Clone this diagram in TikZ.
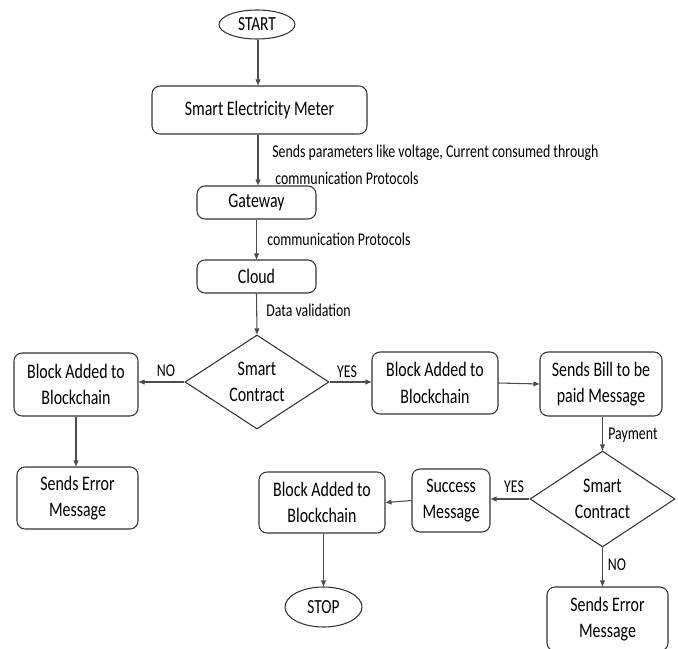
\documentclass[tikz,border=0pt]{standalone}
\usepackage{fontspec}
\setmainfont{Carlito}[FakeStretch=0.77]
\usetikzlibrary{shapes.geometric,arrows.meta}
\tikzset{
  sz/.style 2 args={minimum width={#1*0.75pt},minimum height={#2*0.75pt}},
  box/.style={draw=black!80,line width=0.8pt,rounded corners=6pt,inner sep=0pt,align=center,
     font=\fontsize{15.5}{20}\selectfont},
  term/.style={draw=black!80,line width=0.8pt,ellipse,inner sep=0pt,
     font=\fontsize{15}{18}\selectfont},
  dia/.style={draw=black!80,line width=0.8pt,diamond,inner sep=0pt,align=center,shape aspect=1.53,
     font=\fontsize{15.5}{20}\selectfont},
  conn/.style={draw=black!70,line width=0.8pt,-{Triangle[length=4.5pt,width=3.6pt]}},
  lbl/.style={inner sep=0pt,anchor=west,font=\fontsize{13.5}{16}\selectfont},
  clbl/.style={inner sep=0pt,font=\fontsize{13.5}{16}\selectfont},
}
\begin{document}
\begin{tikzpicture}[x=0.75pt,y=-0.75pt]
\useasboundingbox (0,0) rectangle (678,649);
\node[term,sz={76}{29}] (start) at (257,24.5) {START};
\node[box,sz={215}{48}] (sem) at (259.5,110) {Smart Electricity Meter};
\node[box,sz={119}{33}] (gw) at (256.5,202.5) {Gateway};
\node[box,sz={119}{33}] (cloud) at (256.5,276.5) {Cloud};
\node[dia,sz={144}{94}] (d1) at (257,382) {Smart\\Contract};
\node[box,sz={124}{63}] (lb) at (76,384.5) {Block Added to\\Blockchain};
\node[box,sz={121}{62}] (le) at (77.5,498) {Sends Error\\Message};
\node[box,sz={126}{62}] (rb) at (435,383) {Block Added to\\Blockchain};
\node[box,sz={122}{64}] (bill) at (601,384) {Sends Bill to be\\paid Message};
\node[dia,sz={145}{96}] (d2) at (602.5,499) {Smart\\Contract};
\node[box,sz={78}{63}] (succ) at (451,500.5) {Success\\Message};
\node[box,sz={126}{61}] (bb) at (322,502.5) {Block Added to\\Blockchain};
\node[term,sz={77}{40}] (stop) at (323.5,607) {STOP};
\node[box,sz={121}{64}] (re) at (607.5,619) {Sends Error\\Message};

\draw[conn] (start.south -| 258,0) -- (sem.north -| 258,0);
\draw[conn] (sem.south -| 258,0) -- (gw.north -| 258,0);
\draw[conn] (gw.south) -- (cloud.north);
\draw[conn] (cloud.south) -- (d1.north);
\draw[conn] (d1.west) -- (lb.east |- d1.west);
\draw[conn] (d1.east) -- (rb.west |- d1.east);
\draw[conn] (lb.south) -- (lb.south |- le.north);
\draw[conn] (rb.east) -- (bill.west);
\draw[conn] (bill.south -| d2.north) -- (d2.north);
\draw[conn] (d2.west) -- (succ.east |- d2.west);
\draw[conn] (succ.west) -- (bb.east);
\draw[conn] (bb.south -| stop.north) -- (stop.north);
\draw[conn] (d2.south) -- (d2.south |- re.north);

\node[lbl] (t1) at (272,153) {Sends parameters like voltage, Current consumed through};
\node[lbl] (t2) at (275,178) {communication Protocols};
\node[lbl] (t3) at (267,239) {communication Protocols};
\node[lbl] (t4) at (266,310) {Data validation};
\node[clbl] (no1) at (166,371) {NO};
\node[clbl] (yes1) at (347,372) {YES};
\node[clbl] (pay) at (633,435) {Payment};
\node[clbl] (yes2) at (514,487) {YES};
\node[clbl] (no2) at (617,565) {NO};
\end{tikzpicture}
\end{document}
